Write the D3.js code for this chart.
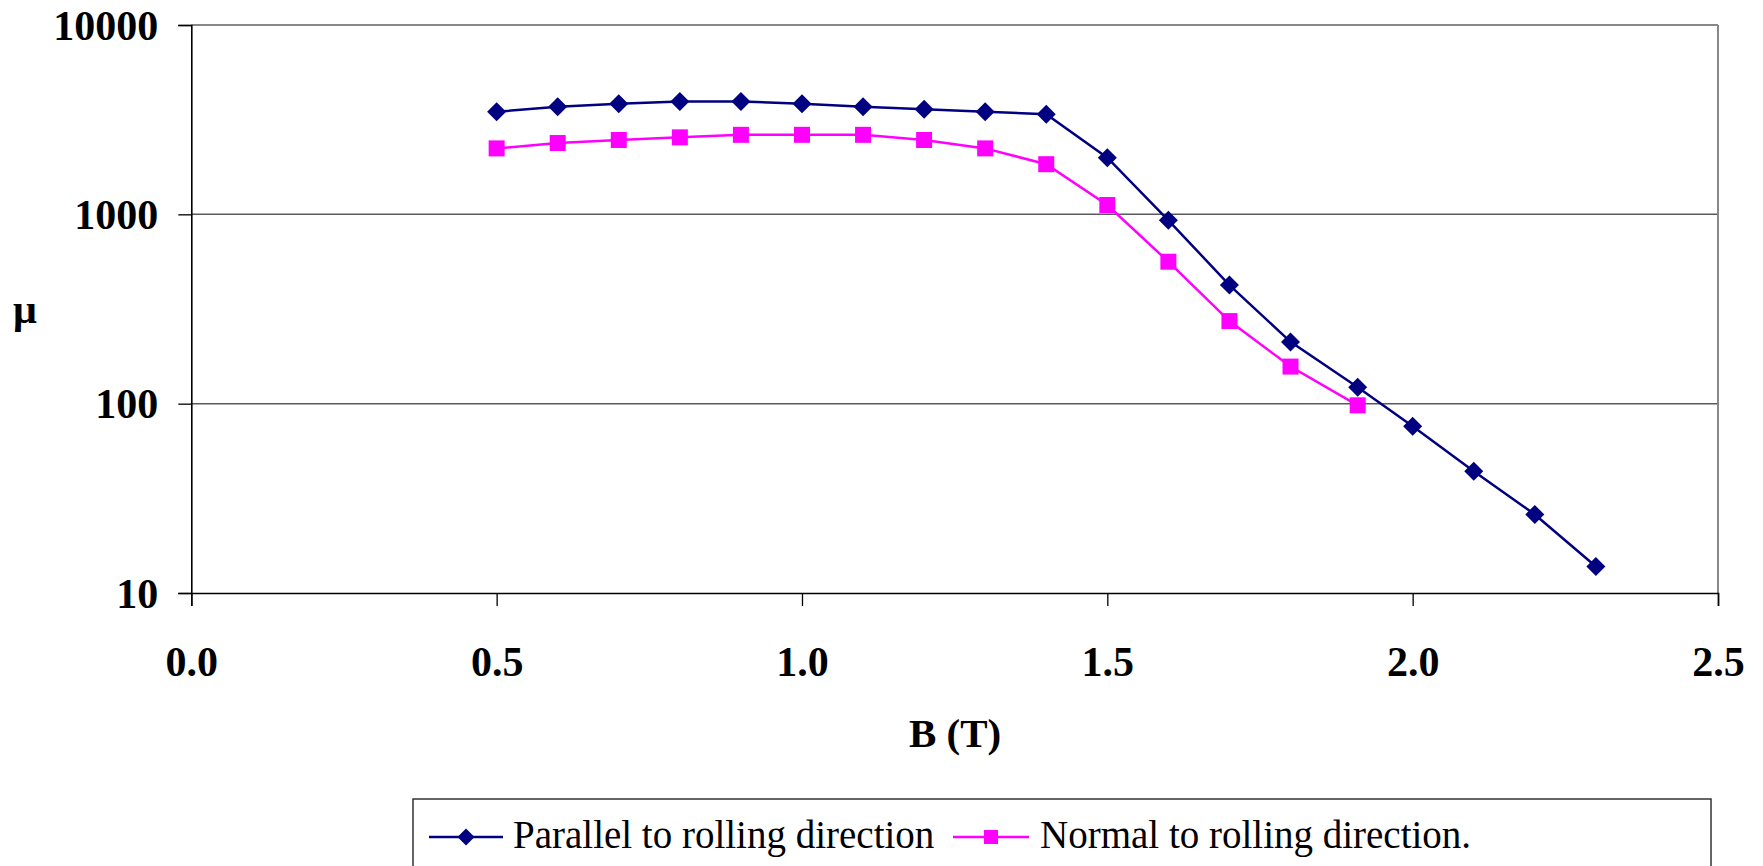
<!DOCTYPE html>
<html>
<head>
<meta charset="utf-8">
<script src="https://cdn.jsdelivr.net/npm/d3@7"></script>
<style>
  html, body { margin: 0; padding: 0; background: #fff; }
  svg { display: block; }
  text { font-family: "Liberation Serif", "Times New Roman", serif; }
</style>
</head>
<body>
<svg id="chart" width="1763" height="866"></svg>
<script>
// ---- data ----
const seriesNames = ["Parallel to rolling direction", "Normal to rolling direction."];
const bParallel = [0.5, 0.6, 0.7, 0.8, 0.9, 1.0, 1.1, 1.2, 1.3, 1.4, 1.5, 1.6, 1.7, 1.8, 1.91, 2.0, 2.1, 2.2, 2.3];
const muParallel = [3480, 3700, 3840, 3950, 3950, 3840, 3700, 3590, 3480, 3380, 1990, 930, 423, 212, 122, 76, 44, 26, 13.8];
const bNormal = [0.5, 0.6, 0.7, 0.8, 0.9, 1.0, 1.1, 1.2, 1.3, 1.4, 1.5, 1.6, 1.7, 1.8, 1.91];
const muNormal = [2230, 2380, 2470, 2550, 2630, 2630, 2630, 2470, 2230, 1840, 1120, 562, 273, 157, 98];
const xTicks = [0, 0.5, 1.0, 1.5, 2.0, 2.5];
const yTicks = [10, 100, 1000, 10000];
const xTitle = "B (T)";
const yTitle = "μ";

// ---- layout ----
const L = 191.3, R = 1718, T = 25, B = 593;
const svg = d3.select("#chart");
svg.append("rect").attr("width", 1763).attr("height", 866).attr("fill", "#fff");

const x = d3.scaleLinear().domain([0, 2.5]).range([L, R]);
const y = d3.scaleLog().domain([10, 10000]).range([B, T]);

// gridlines
svg.append("g").selectAll("line").data(yTicks.filter(v => v !== 10 && v !== 10000)).join("line")
  .attr("x1", L).attr("x2", R).attr("y1", d => y(d)).attr("y2", d => y(d))
  .attr("stroke", "#5a5a5a").attr("stroke-width", 1.5);

// plot border top / right (gray)
svg.append("line").attr("x1", L).attr("x2", R).attr("y1", y(10000)).attr("y2", y(10000))
  .attr("stroke", "#888").attr("stroke-width", 2);
svg.append("line").attr("x1", R).attr("x2", R).attr("y1", T).attr("y2", B)
  .attr("stroke", "#888").attr("stroke-width", 2);

// axes
const yAxis = d3.axisLeft(y).tickValues(yTicks).tickFormat(d3.format("d")).tickSize(13).tickPadding(20);
const gy = svg.append("g").attr("transform", `translate(${L},0)`).call(yAxis);
const xAxis = d3.axisBottom(x).tickValues(xTicks).tickFormat(d3.format(".1f")).tickSize(13).tickPadding(40);
const gx = svg.append("g").attr("transform", `translate(0,${B})`).call(xAxis);
[gx, gy].forEach(g => {
  g.select(".domain").attr("stroke", "#000").attr("stroke-width", 1.6);
  g.selectAll(".tick line").attr("stroke", "#000").attr("stroke-width", 1.3);
  g.selectAll(".tick text").attr("fill", "#000")
    .style("font-family", '"Liberation Serif", "Times New Roman", serif')
    .style("font-weight", "bold").style("font-size", "42px");
});
gy.selectAll(".tick text").attr("dy", "0.34em");
gx.selectAll(".tick text").attr("dy", "0.71em");

// axis titles
svg.append("text").attr("x", 955).attr("y", 747).attr("text-anchor", "middle")
  .style("font-weight", "bold").style("font-size", "41px").text(xTitle);
svg.append("text").attr("x", 25).attr("y", 323).attr("text-anchor", "middle")
  .style("font-weight", "bold").style("font-size", "42px").text(yTitle);

// series
const parallel = bParallel.map((b, i) => ({ b, m: muParallel[i] }));
const normal = bNormal.map((b, i) => ({ b, m: muNormal[i] }));
const line = d3.line().x(d => x(d.b)).y(d => y(d.m));

const navy = "#000080", magenta = "#FF00FF";

svg.append("path").datum(normal).attr("d", line).attr("fill", "none")
  .attr("stroke", magenta).attr("stroke-width", 2.5);
svg.append("g").selectAll("rect").data(normal).join("rect")
  .attr("x", d => x(d.b) - 8).attr("y", d => y(d.m) - 8)
  .attr("width", 16).attr("height", 16).attr("fill", magenta);

svg.append("path").datum(parallel).attr("d", line).attr("fill", "none")
  .attr("stroke", navy).attr("stroke-width", 2.5);
function diamondPath(cx, cy, r) {
  return `M${cx},${cy - r}L${cx + r},${cy}L${cx},${cy + r}L${cx - r},${cy}Z`;
}
svg.append("g").selectAll("path").data(parallel).join("path")
  .attr("d", d => diamondPath(x(d.b), y(d.m), 9.5)).attr("fill", navy);

// legend
const lg = svg.append("g");
lg.append("rect").attr("x", 413).attr("y", 799).attr("width", 1298).attr("height", 120)
  .attr("fill", "#fff").attr("stroke", "#333").attr("stroke-width", 1.5);
const legendItems = [
  { name: seriesNames[0], color: navy, x0: 429, x1: 503, tx: 513, shape: "diamond" },
  { name: seriesNames[1], color: magenta, x0: 953, x1: 1029, tx: 1040, shape: "square" }
];
const ly = 837;
legendItems.forEach(it => {
  lg.append("line").attr("x1", it.x0).attr("x2", it.x1).attr("y1", ly).attr("y2", ly)
    .attr("stroke", it.color).attr("stroke-width", 2.5);
  const cx = (it.x0 + it.x1) / 2;
  if (it.shape === "diamond") {
    lg.append("path").attr("d", diamondPath(cx, ly, 8.5)).attr("fill", it.color);
  } else {
    lg.append("rect").attr("x", cx - 7).attr("y", ly - 7).attr("width", 14).attr("height", 14).attr("fill", it.color);
  }
  lg.append("text").attr("x", it.tx).attr("y", 848).style("font-size", "39px").attr("fill", "#000").text(it.name);
});
</script>
</body>
</html>
